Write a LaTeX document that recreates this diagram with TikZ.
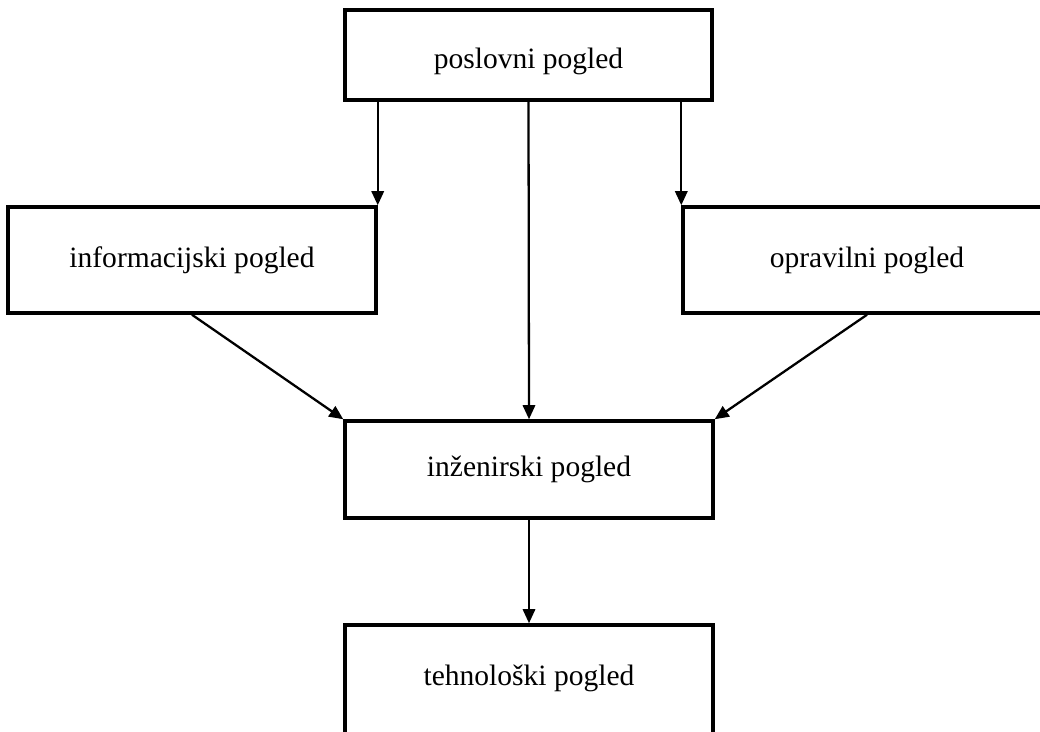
\documentclass[tikz,border=0pt]{standalone}
\usepackage{fontspec}
\setmainfont{Liberation Serif}
\usetikzlibrary{arrows.meta}
\begin{document}
\begin{tikzpicture}[x=0.02cm,y=-0.02cm,
  viewbox/.style={draw, line width=2pt, rectangle, inner sep=0pt,
    minimum width=7.36cm, font=\fontsize{16.8}{20}\selectfont},
  caption/.style={font=\fontsize{16.8}{20}\selectfont, inner sep=0pt},
  flow/.style={line width=1.3pt, -{Triangle[length=8pt,width=7pt]}}]
\useasboundingbox (0,0) rectangle (1040,732);
\clip (0,0) rectangle (1040,732);

% the five views
\node[viewbox, minimum width=7.34cm, minimum height=1.8cm] (posl) at (528.5,55) {};
\node[caption] (poslt) at (528.5,61) {poslovni pogled};
\node[viewbox, minimum height=2.12cm] (info) at (192,260) {informacijski pogled};
\node[viewbox, minimum height=2.12cm] (oprav) at (867,260) {opravilni pogled};
\node[viewbox, minimum height=1.94cm] (inz) at (529,469.5) {inženirski pogled};
\node[viewbox, minimum height=2.3cm] (tehn) at (529,682.5) {};
\node[caption] (tehnt) at (529,678) {tehnološki pogled};

% connectors
\draw[flow] (info.north east |- posl.south) -- (info.north east);
\draw[flow] (posl.south) -- (inz.north);
\draw[flow] (oprav.north west |- posl.south) -- (oprav.north west);
\draw[flow] (info.south) -- (inz.north west);
\draw[flow] (oprav.south) -- (inz.north east);
\draw[flow] (inz.south) -- (tehn.north);
\end{tikzpicture}
\end{document}
